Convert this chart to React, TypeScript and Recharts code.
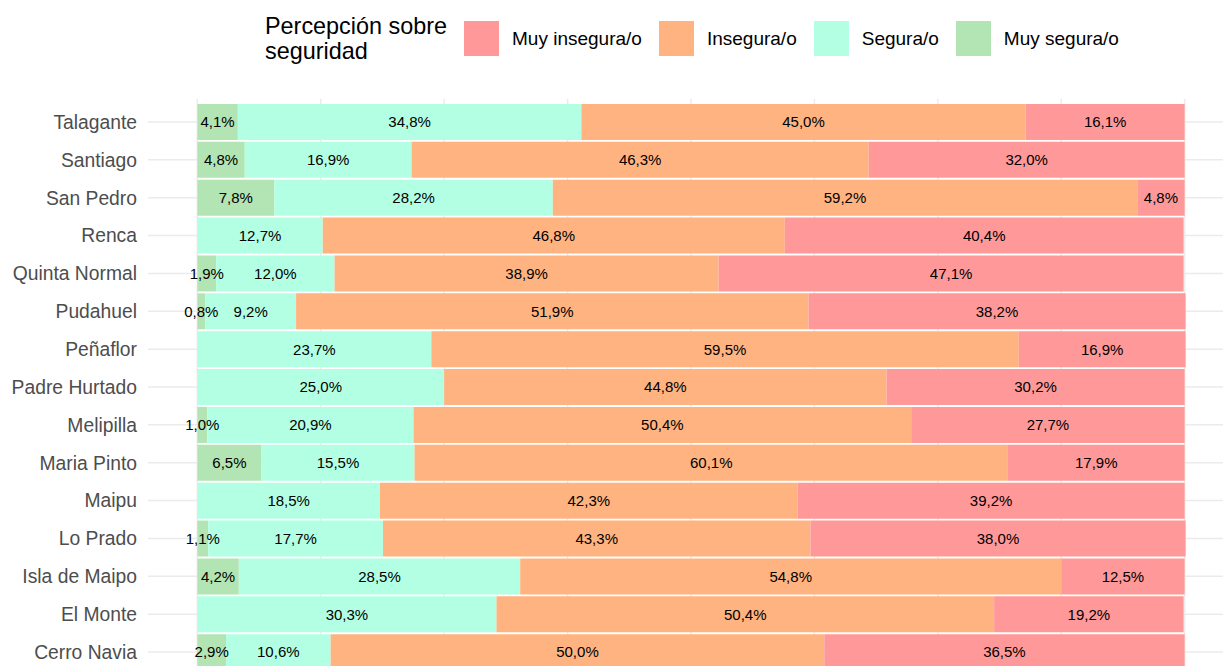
import React from 'react';
import { BarChart, Bar, XAxis, YAxis, CartesianGrid, LabelList } from 'recharts';

// Comunas, top to bottom
const comunas = [
  'Talagante', 'Santiago', 'San Pedro', 'Renca', 'Quinta Normal', 'Pudahuel', 'Peñaflor',
  'Padre Hurtado', 'Melipilla', 'Maria Pinto', 'Maipu', 'Lo Prado', 'Isla de Maipo',
  'El Monte', 'Cerro Navia',
];

// Percent per category (null = no segment)
const muySegura = [4.1, 4.8, 7.8, null, 1.9, 0.8, null, null, 1.0, 6.5, null, 1.1, 4.2, null, 2.9];
const segura = [34.8, 16.9, 28.2, 12.7, 12.0, 9.2, 23.7, 25.0, 20.9, 15.5, 18.5, 17.7, 28.5, 30.3, 10.6];
const insegura = [45.0, 46.3, 59.2, 46.8, 38.9, 51.9, 59.5, 44.8, 50.4, 60.1, 42.3, 43.3, 54.8, 50.4, 50.0];
const muyInsegura = [16.1, 32.0, 4.8, 40.4, 47.1, 38.2, 16.9, 30.2, 27.7, 17.9, 39.2, 38.0, 12.5, 19.2, 36.5];

const xTicks = [0, 12.5, 25, 37.5, 50, 62.5, 75, 87.5, 100];

const series = [
  { key: 'muySegura', name: 'Muy segura/o', color: '#B3E4B3' },
  { key: 'segura', name: 'Segura/o', color: '#B3FFE3' },
  { key: 'insegura', name: 'Insegura/o', color: '#FFB380' },
  { key: 'muyInsegura', name: 'Muy insegura/o', color: '#FF9999' },
];

const legendOrder = ['muyInsegura', 'insegura', 'segura', 'muySegura'];

const data = comunas.map((name, i) => ({
  name,
  muySegura: muySegura[i],
  segura: segura[i],
  insegura: insegura[i],
  muyInsegura: muyInsegura[i],
}));

const fmt = (v: any) => (v ? `${Number(v).toFixed(1).replace('.', ',')}%` : '');

const FONT = '"Liberation Sans", Arial, Helvetica, sans-serif';

const App: React.FC = () => {
  return (
    <div style={{ position: 'relative', width: 1223, height: 666, overflow: 'hidden', fontFamily: FONT, background: '#fff' }}>
      <style>{`body { margin: 0; }`}</style>

      {/* legend */}
      <div style={{ position: 'absolute', left: 265, top: 14, fontSize: 23.4, lineHeight: '25px', color: '#000' }}>
        Percepción sobre<br />seguridad
      </div>
      <div style={{ position: 'absolute', left: 464, top: 21, display: 'flex', alignItems: 'center', height: 35 }}>
        {legendOrder.map((k) => {
          const s = series.find((x) => x.key === k)!;
          return (
            <div key={k} style={{ display: 'flex', alignItems: 'center', marginRight: 17 }}>
              <div style={{ width: 35, height: 35, background: s.color }} />
              <span style={{ marginLeft: 13, fontSize: 19, color: '#000' }}>{s.name}</span>
            </div>
          );
        })}
      </div>

      <div style={{ position: 'absolute', left: 0, top: 0 }}>
        <BarChart
          width={1240}
          height={700}
          data={data}
          layout="vertical"
          barCategoryGap={1}
          margin={{ top: 99, right: 6, left: 0, bottom: 25 }}
        >
          <CartesianGrid stroke="#EBEBEB" strokeWidth={1.5} syncWithTicks />
          <XAxis type="number" domain={[-5, 105]} ticks={xTicks} allowDataOverflow hide />
          <YAxis
            type="category"
            dataKey="name"
            width={148}
            axisLine={false}
            tickLine={false}
            tickSize={0}
            tickMargin={11}
            padding={{ top: 4, bottom: 4 }}
            tick={{ fill: '#4D4D4D', fontSize: 19.3, fontFamily: FONT }}
            interval={0}
          />
          {series.map((s) => (
            <Bar key={s.key} dataKey={s.key} name={s.name} stackId="a" fill={s.color} isAnimationActive={false}>
              <LabelList
                dataKey={s.key}
                position="center"
                formatter={fmt}
                fill="#000"
                fontSize={15}
                fontFamily={FONT}
              />
            </Bar>
          ))}
        </BarChart>
      </div>
    </div>
  );
};

export default App;
